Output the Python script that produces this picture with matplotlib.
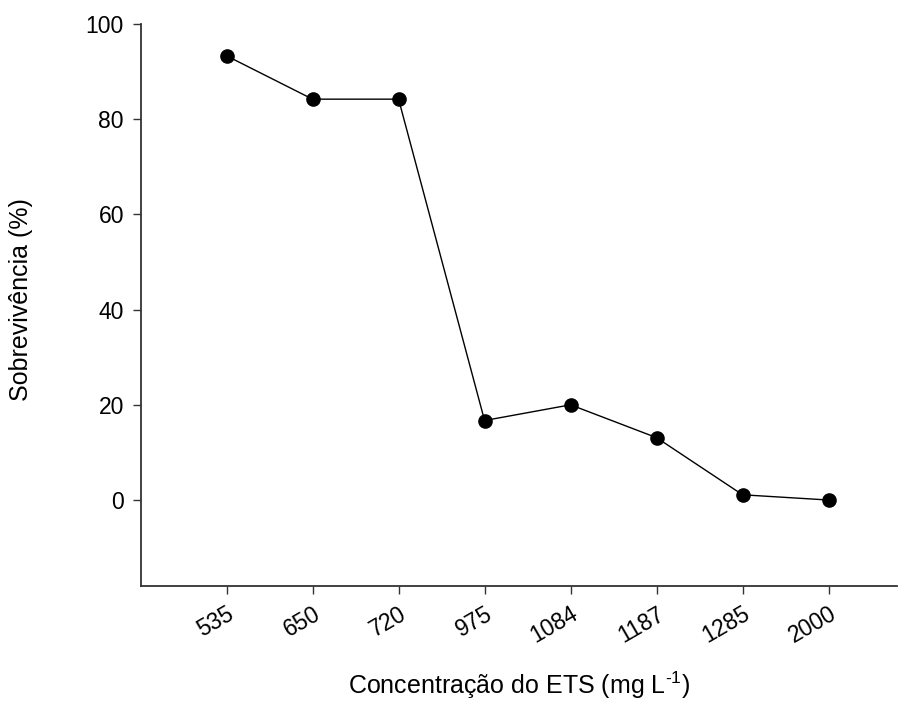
import matplotlib
matplotlib.use('Agg')
import matplotlib.pyplot as plt

plt.rcParams['font.family'] = ['Liberation Sans', 'DejaVu Sans']
plt.rcParams['mathtext.fontset'] = 'custom'
plt.rcParams['mathtext.rm'] = 'Liberation Sans'
plt.rcParams['mathtext.it'] = 'Liberation Sans'

# Data
concentracoes = ['535', '650', '720', '975', '1084', '1187', '1285', '2000']
sobrevivencia = [93.3, 84.2, 84.2, 16.7, 20.0, 13.1, 1.1, 0.0]
y_ticks = [0, 20, 40, 60, 80, 100]

fig = plt.figure(figsize=(9.01, 7.04), dpi=100)
ax = fig.add_axes([0.156, 0.168, 0.84, 0.798])

x = range(len(concentracoes))
ax.plot(x, sobrevivencia, color='black', lw=1.0, marker='o', ms=9.5,
        markerfacecolor='black', markeredgecolor='black')

ax.set_xlim(-1.0, 7.8)
ax.set_ylim(-18, 100)
ax.set_xticks(list(x))
ax.set_xticklabels(concentracoes, rotation=30, ha='right', rotation_mode='anchor')
ax.set_yticks(y_ticks)

ax.spines['top'].set_visible(False)
ax.spines['right'].set_visible(False)
for s in ['left', 'bottom']:
    ax.spines[s].set_color('#333333')
    ax.spines[s].set_linewidth(1.3)

ax.tick_params(axis='both', direction='out', length=6, width=1.0, color='#333333',
               labelsize=16.5, pad=6)

ax.set_xlabel('Concentração do ETS (mg L$^{\\text{-1}}$)', fontsize=18)
ax.set_ylabel('Sobrevivência (%)', fontsize=18)
ax.xaxis.set_label_coords(0.5, -0.150)
ax.yaxis.set_label_coords(-0.142, 0.51)

fig.savefig('out.png', dpi=100)
